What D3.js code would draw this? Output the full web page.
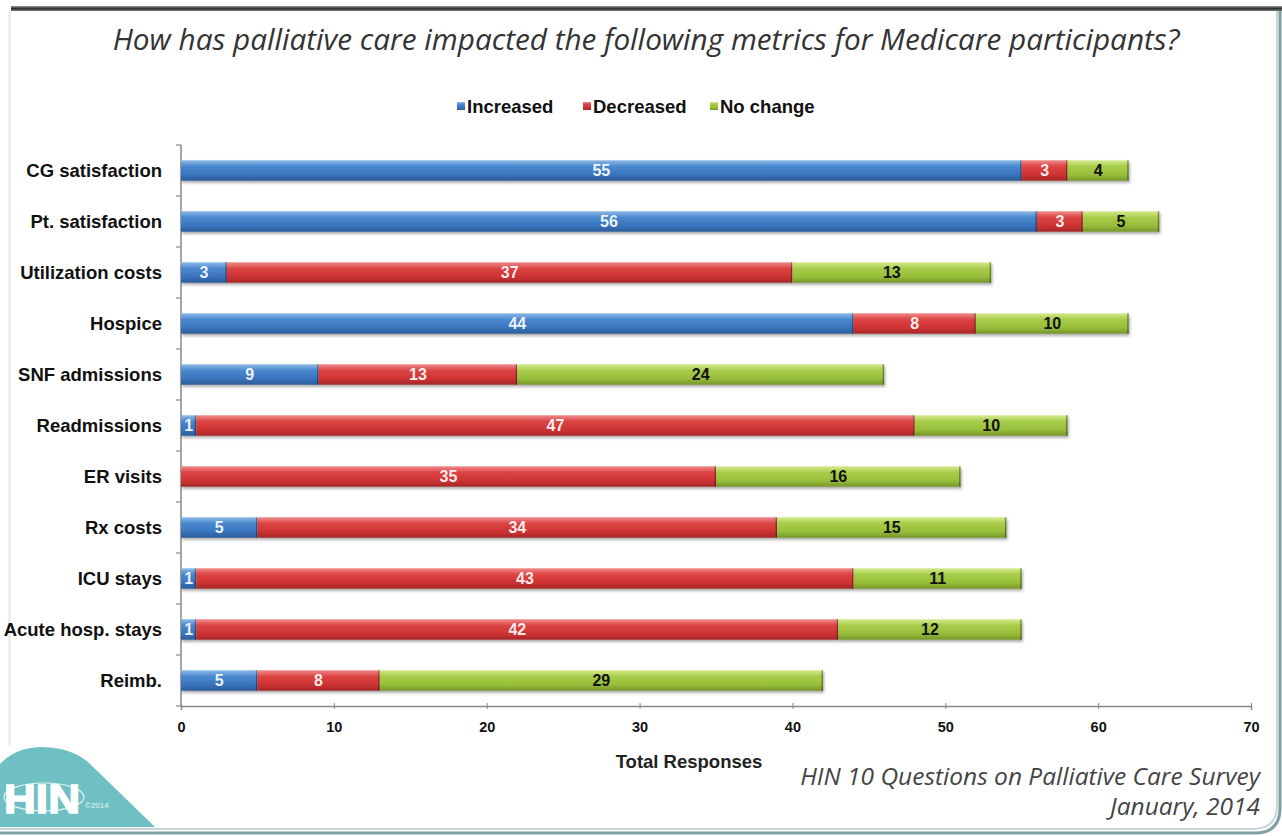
<!DOCTYPE html>
<html><head><meta charset="utf-8">
<script src="https://cdn.jsdelivr.net/npm/d3@7"></script>
<style>
html,body{margin:0;padding:0;background:#fff;}
svg{display:block;}
</style></head>
<body>
<svg id="chart" width="1282" height="836"></svg>
<script>
const categories = ["CG satisfaction","Pt. satisfaction","Utilization costs","Hospice","SNF admissions","Readmissions","ER visits","Rx costs","ICU stays","Acute hosp. stays","Reimb."];
const increased = [55,56,3,44,9,1,0,5,1,1,5];
const decreased = [3,3,37,8,13,47,35,34,43,42,8];
const noChange  = [4,5,13,10,24,10,16,15,11,12,29];
const seriesNames = ["Increased","Decreased","No change"];
const xTicks = [0,10,20,30,40,50,60,70];

const svg = d3.select("#chart");
const W = 1282, H = 836;
const m = {left:181, right:1251, top:145, bottom:706};
const ARIAL = "'Liberation Sans', Arial, sans-serif";

const defs = svg.append("defs");
const grads = [
  {id:"gInc", stops:["#8db9e8","#4a88cf","#3a74bd","#2b5c9a"]},
  {id:"gDec", stops:["#f08a8a","#dc4444","#cf3333","#a52828"]},
  {id:"gNo",  stops:["#d4ea8e","#a8cc4a","#98bf3a","#75952a"]}
];
grads.forEach(g=>{
  const lg = defs.append("linearGradient").attr("id",g.id).attr("x1",0).attr("y1",0).attr("x2",0).attr("y2",1);
  lg.append("stop").attr("offset","0%").attr("stop-color",g.stops[0]);
  lg.append("stop").attr("offset","30%").attr("stop-color",g.stops[1]);
  lg.append("stop").attr("offset","70%").attr("stop-color",g.stops[2]);
  lg.append("stop").attr("offset","100%").attr("stop-color",g.stops[3]);
});
const f = defs.append("filter").attr("id","shadow").attr("x","-5%").attr("y","-30%").attr("width","110%").attr("height","180%");
f.append("feDropShadow").attr("dx",1).attr("dy",2).attr("stdDeviation",1.5).attr("flood-color","#000").attr("flood-opacity",0.35);

// frame
const topG = defs.append("linearGradient").attr("id","topLine").attr("x1",0).attr("y1",0).attr("x2",0).attr("y2",1);
topG.append("stop").attr("offset","0%").attr("stop-color","#999");
topG.append("stop").attr("offset","50%").attr("stop-color","#333");
topG.append("stop").attr("offset","100%").attr("stop-color","#777");
svg.append("rect").attr("x",11).attr("y",6).attr("width",W-11).attr("height",5).attr("fill","url(#topLine)");
svg.append("line").attr("x1",9.5).attr("x2",9.5).attr("y1",11).attr("y2",745).attr("stroke","#e4e8ea").attr("stroke-width",2);
svg.append("path").attr("d",`M1277,11 L1277,805 Q1277,829 1253,829 L0,829`).attr("fill","none").attr("stroke","#c9d4d6").attr("stroke-width",2);
svg.append("path").attr("d",`M1280,11 L1280,808 Q1280,833 1255,833 L0,833`).attr("fill","none").attr("stroke","#7fa0a2").attr("stroke-width",3);

// scales
const x = d3.scaleLinear().domain([0,70]).range([m.left,m.right]);
const y = d3.scaleBand().domain(categories).range([m.top,m.bottom]).paddingInner(0.6).paddingOuter(0.3);

// title
const title = svg.append("text").attr("x",646).attr("y",50).attr("text-anchor","middle")
  .attr("font-family","'Open Sans', sans-serif").attr("font-style","italic").attr("font-size",24).attr("fill","#333")
  .text("How has palliative care impacted the following metrics for Medicare participants?");
const tw = title.node().getComputedTextLength();
title.attr("font-size", 24*1067/tw);

// legend
const legX = [457,583,710];
seriesNames.forEach((s,i)=>{
  svg.append("rect").attr("x",legX[i]).attr("y",102).attr("width",8).attr("height",8).attr("fill",`url(#${grads[i].id})`);
  svg.append("text").attr("x",legX[i]+10).attr("y",113).attr("font-family",ARIAL)
    .attr("font-weight","bold").attr("font-size",18.5).attr("fill","#111").text(s);
});

// axes
const yAxis = svg.append("g").attr("transform",`translate(${m.left},0)`);
yAxis.append("line").attr("x1",0).attr("x2",0).attr("y1",m.top).attr("y2",m.bottom).attr("stroke","#888").attr("stroke-width",1.5);
const bounds = d3.range(categories.length+1).map(i=> i===0? m.top : (i===categories.length? m.bottom : y(categories[i]) - y.step()*y.paddingInner()/2));
yAxis.selectAll("line.tk").data(bounds).join("line").attr("class","tk").attr("x1",-5).attr("x2",0).attr("y1",d=>d).attr("y2",d=>d).attr("stroke","#888").attr("stroke-width",1.2);
svg.append("g").selectAll("text").data(categories).join("text")
  .attr("x",162).attr("y",d=>y(d)+y.bandwidth()/2).attr("dy","0.35em").attr("text-anchor","end")
  .attr("font-family",ARIAL).attr("font-weight","bold").attr("font-size",18.5).attr("fill","#111")
  .text(d=>d);

const xAxis = svg.append("g").attr("transform",`translate(0,${m.bottom})`)
  .call(d3.axisBottom(x).tickValues(xTicks).tickSize(4).tickFormat(d3.format("d")));
xAxis.select(".domain").attr("stroke","#888").attr("stroke-width",1.5);
xAxis.selectAll(".tick line").attr("stroke","#888").attr("y1",-3).attr("y2",3);
xAxis.selectAll(".tick text").attr("y",16).attr("font-family",ARIAL).attr("font-weight","bold").attr("font-size",14.5).attr("fill","#111");

svg.append("text").attr("x",689).attr("y",768).attr("text-anchor","middle")
  .attr("font-family",ARIAL).attr("font-weight","bold").attr("font-size",18.5).attr("fill","#222")
  .text("Total Responses");

// bars
const rows = categories.map((c,i)=>({c, vals:[increased[i],decreased[i],noChange[i]]}));
const barG = svg.append("g");
rows.forEach(r=>{
  let acc = 0;
  const g = barG.append("g").attr("filter","url(#shadow)");
  r.vals.forEach((v,k)=>{
    const x0 = acc; acc += v;
    if (v<=0) return;
    g.append("rect").attr("x",x(x0)).attr("y",y(r.c)).attr("width",x(acc)-x(x0)).attr("height",y.bandwidth())
      .attr("fill",`url(#${grads[k].id})`);
    g.append("line").attr("x1",x(acc)-0.75).attr("x2",x(acc)-0.75).attr("y1",y(r.c)).attr("y2",y(r.c)+y.bandwidth())
      .attr("stroke","#000").attr("stroke-opacity",0.35).attr("stroke-width",1.5);
  });
});
const labG = svg.append("g");
rows.forEach(r=>{
  let acc = 0;
  r.vals.forEach((v,k)=>{
    const x0 = acc; acc += v;
    if (v<=0) return;
    labG.append("text").attr("x",(x(x0)+x(acc))/2).attr("y",y(r.c)+y.bandwidth()/2).attr("dy","0.36em")
      .attr("text-anchor","middle").attr("font-family",ARIAL).attr("font-weight","bold")
      .attr("font-size",16).attr("fill",k===2?"#111":"#fff").attr("fill-opacity",k===2?1:0.92).text(v);
  });
});

// source
const src = svg.append("g").attr("font-family","'Open Sans', sans-serif").attr("font-style","italic").attr("fill","#444").attr("text-anchor","end");
const s1 = src.append("text").attr("x",1260).attr("y",785).attr("font-size",20).text("HIN 10 Questions on Palliative Care Survey");
const sw = s1.node().getComputedTextLength();
const sfs = 20*460/sw;
s1.attr("font-size",sfs);
src.append("text").attr("x",1260).attr("y",815).attr("font-size",sfs).text("January, 2014");

// logo
svg.append("path").attr("d","M0,764 Q15,748 40,747 Q70,747 88,762 L155,827 L0,827 Z").attr("fill","#6fc0c2");
svg.append("ellipse").attr("cx",44).attr("cy",797).attr("rx",40).attr("ry",14).attr("fill","none").attr("stroke","#fff").attr("stroke-width",1.2).attr("stroke-opacity",0.8);
svg.append("text").attr("x",4).attr("y",813).attr("font-family",ARIAL).attr("font-weight","bold")
  .attr("font-size",40).attr("fill","#fff").attr("stroke","#fff").attr("stroke-width",1.5)
  .attr("textLength",76).attr("lengthAdjust","spacingAndGlyphs").text("HIN");
svg.append("text").attr("x",85).attr("y",808).attr("font-family",ARIAL)
  .attr("font-size",8).attr("fill","#e8f6f6").text("©2014");
</script>
</body></html>
